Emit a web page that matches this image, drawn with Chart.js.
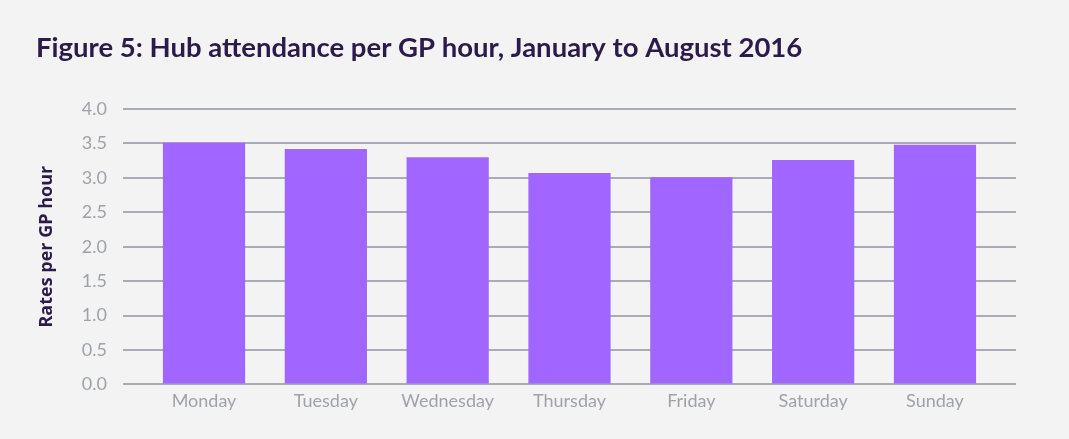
<!DOCTYPE html>
<html>
<head>
<meta charset="utf-8">
<script src="https://cdn.jsdelivr.net/npm/chart.js@4/dist/chart.umd.min.js"></script>
<style>
  html, body { margin: 0; padding: 0; background: #f3f3f3; }
  #wrap { width: 1069px; height: 439px; }
</style>
</head>
<body>
<div id="wrap"><canvas id="chart" width="1069" height="439"></canvas></div>
<script>
// data
var days = ["Monday", "Tuesday", "Wednesday", "Thursday", "Friday", "Saturday", "Sunday"];
var rates = [3.51, 3.42, 3.30, 3.07, 3.01, 3.26, 3.48];
var yTicks = [0, 0.5, 1, 1.5, 2, 2.5, 3, 3.5, 4];

// x is numeric so the grid lines can run a bit past the outer bars
var points = days.map(function(d, i) { return { x: i, y: rates[i] }; });

var ctx = document.getElementById("chart").getContext("2d");
var chart = new Chart(ctx, {
  type: "bar",
  data: {
    datasets: [{
      data: points,
      backgroundColor: "#a066ff",
      borderWidth: 0,
      categoryPercentage: 1,
      barPercentage: 0.675
    }]
  },
  options: {
    responsive: false,
    animation: false,
    layout: { padding: { left: 36, right: 53, top: 32, bottom: 21 } },
    plugins: {
      legend: { display: false },
      tooltip: { enabled: false },
      title: {
        display: true,
        text: "Figure 5: Hub attendance per GP hour, January to August 2016",
        align: "start",
        color: "#2b1a4a",
        font: { family: "Lato", size: 27.5, weight: "bold" },
        padding: { top: 0, bottom: 44 }
      }
    },
    scales: {
      x: {
        type: "linear",
        offset: false,
        min: -0.665,
        max: days.length - 1 + 0.665,
        afterBuildTicks: function(scale) {
          scale.ticks = days.map(function(d, i) { return { value: i }; });
        },
        grid: { display: false, drawTicks: false },
        border: { display: false },
        ticks: {
          color: "#a0a2ab",
          font: { family: "Lato", size: 18 },
          padding: 6,
          maxRotation: 0,
          autoSkip: false,
          callback: function(v) { return days[v]; }
        }
      },
      y: {
        min: 0,
        max: 4,
        afterBuildTicks: function(scale) {
          scale.ticks = yTicks.map(function(v) { return { value: v }; });
        },
        afterFit: function(scale) { scale.width = 87; },
        grid: { color: "#a9abb5", lineWidth: 2, drawTicks: false },
        border: { display: false },
        ticks: {
          color: "#a0a2ab",
          font: { family: "Lato", size: 18 },
          padding: 16,
          callback: function(v) { return Number(v).toFixed(1); }
        },
        title: {
          display: true,
          text: "Rates per GP hour",
          color: "#2b1a4a",
          font: { family: "Open Sans", size: 18, weight: "bold" },
          padding: { top: 0, bottom: 0 }
        }
      }
    }
  }
});
</script>
</body>
</html>
